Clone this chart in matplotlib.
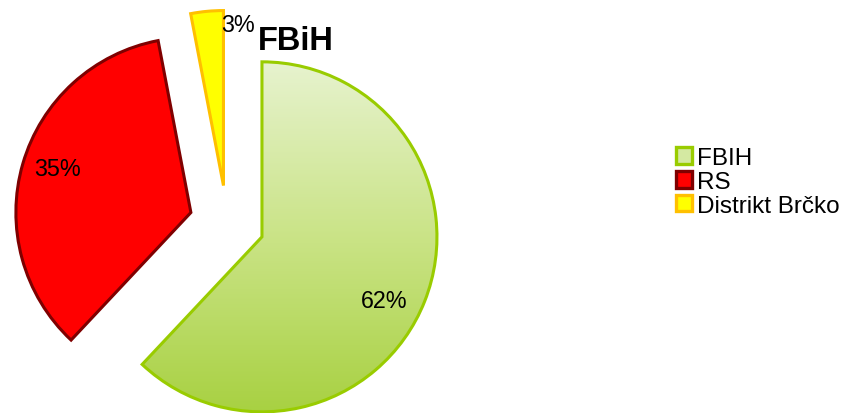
import numpy as np
import matplotlib.pyplot as plt
from matplotlib.patches import Patch
from matplotlib.colors import LinearSegmentedColormap

plt.rcParams['font.family'] = ['Liberation Sans', 'DejaVu Sans']

# data
names = ['FBIH', 'RS', 'Distrikt Brčko']
values = [62, 35, 3]
face_colors = ['#d4e9a2', '#ff0000', '#ffff00']
edge_colors = ['#99cc00', '#7f0000', '#ffc000']
title = 'FBiH'

W, H = 844, 414
fig = plt.figure(figsize=(W / 100, H / 100), dpi=100)
ax = fig.add_axes([0, 0, 1, 1])

cx, cy, r = 227, H - 224, 175
wedges, _ = ax.pie(values, explode=[37.6] * 3, center=(cx, cy), radius=r,
                   startangle=90, counterclock=False, colors=face_colors,
                   wedgeprops=dict(linewidth=2.2, joinstyle='miter'))
for w, ec in zip(wedges, edge_colors):
    w.set_edgecolor(ec)

# gradient fill for the big slice
fb = wedges[0]
fb.set_facecolor('none')
fb.set_zorder(3)
cmap = LinearSegmentedColormap.from_list('g', ['#a3ce38', '#c9e384', '#e9f4d4'])
grad = np.linspace(0, 1, 256).reshape(-1, 1)
im = ax.imshow(grad, cmap=cmap, origin='lower', aspect='auto',
               extent=(cx - r, cx + r + 80, cy - r - 40, cy + r), zorder=2)
im.set_clip_path(fb)

ax.set_xlim(0, W)
ax.set_ylim(0, H)
ax.axis('off')

# percent labels
pct_pos = [(384, H - 302), (58, H - 170), (238, H - 25)]
for v, (x, y) in zip(values, pct_pos):
    ax.text(x, y, f'{v}%', fontsize=16.8, ha='center', va='center', zorder=5)

ax.text(296, H - 42, title, fontsize=23.5, fontweight='bold', ha='center', va='center', zorder=5)

handles = [Patch(facecolor=fc, edgecolor=ec, linewidth=2.4) for fc, ec in zip(face_colors, edge_colors)]
fig.legend(handles, names, loc='upper left', bbox_to_anchor=(676 / W, 1 - 148 / H),
           frameon=False, fontsize=17.5, handlelength=0.65, handleheight=0.65,
           handletextpad=0.2, labelspacing=0.08, borderpad=0, borderaxespad=0)

fig.savefig('out.png', dpi=100)
